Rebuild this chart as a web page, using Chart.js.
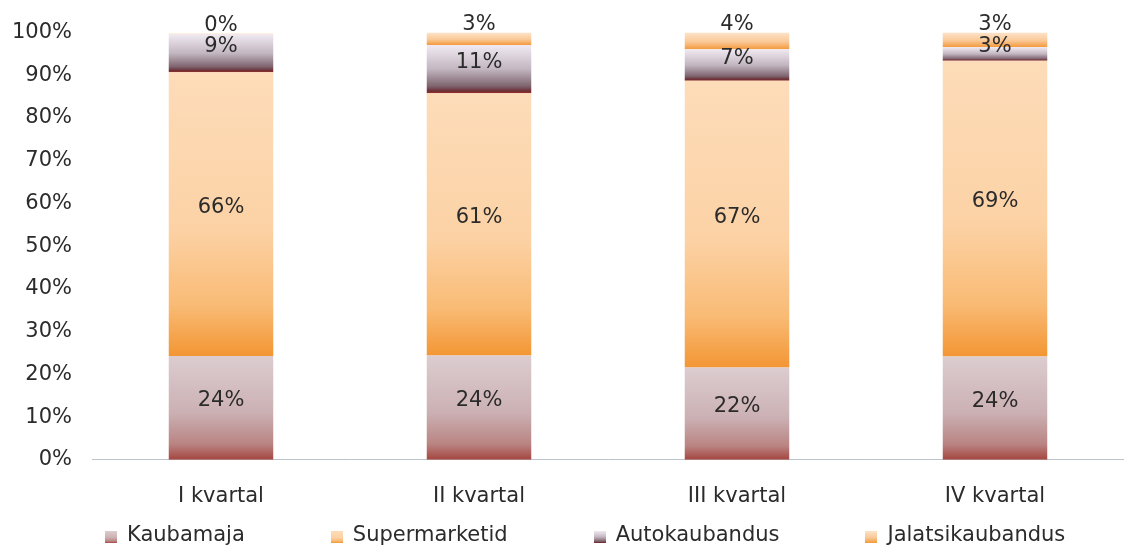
<!DOCTYPE html>
<html>
<head>
<meta charset="utf-8">
<script src="https://cdn.jsdelivr.net/npm/chart.js@4/dist/chart.umd.min.js"></script>
<style>
  html, body { margin: 0; padding: 0; background: #fff; }
  #wrap { width: 1124px; height: 548px; }
</style>
</head>
<body>
<div id="wrap"><canvas id="chart" width="1124" height="548"></canvas></div>
<script>
// andmed (protsendid)
const categories = ['I kvartal', 'II kvartal', 'III kvartal', 'IV kvartal'];
const seriesNames = ['Kaubamaja', 'Supermarketid', 'Autokaubandus', 'Jalatsikaubandus'];
const kaubamaja = [24.3, 24.4, 21.6, 24.2];
const supermarketid = [66.4, 61.4, 67.1, 69.2];
const autokaubandus = [8.9, 11.3, 7.4, 3.2];
const jalatsikaubandus = [0.2, 2.9, 3.9, 3.4];
const yTicks = [0, 10, 20, 30, 40, 50, 60, 70, 80, 90, 100];

const FONT = '"DejaVu Sans", Arial, sans-serif';
const TEXT = '#2b2b2b';

const gradStops = [
    [[0, '#dccdd0'], [0.55, '#cbb0b3'], [0.85, '#b98482'], [1, '#a5453f']],
    [[0, '#fddcb9'], [0.55, '#fcd2a5'], [0.82, '#f9bb75'], [1, '#f39634']],
    [[0, '#f1eaf3'], [0.5, '#c2b6c0'], [0.85, '#7f6570'], [0.95, '#6c3038'], [1, '#982c2a']],
    [[0, '#fde3c8'], [0.55, '#fac897'], [1, '#f39a3c']],
];

// iga lõigu enda kõrgusele venitatud gradient
function segGradient(di) {
    return (ctx) => {
        const chart = ctx.chart;
        const y = chart.scales.y;
        if (ctx.type !== 'data' || !y) return gradStops[di][0][1];
        let start = 0;
        for (let k = 0; k < di; k++) start += chart.data.datasets[k].data[ctx.dataIndex];
        const end = start + chart.data.datasets[di].data[ctx.dataIndex];
        const y0 = y.getPixelForValue(end);
        const y1 = y.getPixelForValue(start);
        if (!isFinite(y0) || !isFinite(y1)) return gradStops[di][0][1];
        const g = chart.ctx.createLinearGradient(0, y0, 0, Math.max(y1, y0 + 1));
        gradStops[di].forEach(([o, c]) => g.addColorStop(o, c));
        return g;
    };
}

function legendSwatch(di) {
    const c = document.createElement('canvas');
    c.width = 12; c.height = 12;
    const x = c.getContext('2d');
    const g = x.createLinearGradient(0, 0, 0, 12);
    gradStops[di].forEach(([o, col]) => g.addColorStop(o, col));
    x.fillStyle = g;
    x.fillRect(0, 0, 12, 12);
    return c;
}

const valueLabels = {
    id: 'valueLabels',
    afterDatasetsDraw(chart) {
        const ctx = chart.ctx;
        ctx.save();
        ctx.font = '21px ' + FONT;
        ctx.fillStyle = TEXT;
        ctx.textAlign = 'center';
        ctx.textBaseline = 'middle';
        const last = chart.data.datasets.length - 1;
        chart.data.datasets.forEach((ds, di) => {
            chart.getDatasetMeta(di).data.forEach((el, i) => {
                const txt = Math.round(ds.data[i]) + '%';
                const ty = di === last ? el.y - 8 : (el.y + el.base) / 2 - 7;
                ctx.fillText(txt, el.x, ty);
            });
        });
        ctx.restore();
    }
};

// alumine legend
const bottomLegend = {
    id: 'bottomLegend',
    afterDraw(chart) {
        const ctx = chart.ctx;
        ctx.save();
        ctx.font = '21px ' + FONT;
        ctx.fillStyle = TEXT;
        ctx.textBaseline = 'middle';
        ctx.textAlign = 'left';
        const cy = 536;
        let x = 105;
        seriesNames.forEach((name, di) => {
            ctx.drawImage(legendSwatch(di), x, cy - 5, 12, 12);
            x += 12 + 10;
            ctx.fillText(name, x, cy);
            x += ctx.measureText(name).width + 86;
        });
        ctx.restore();
    }
};

const seriesData = [kaubamaja, supermarketid, autokaubandus, jalatsikaubandus];

const chart = new Chart(document.getElementById('chart'), {
    type: 'bar',
    data: {
        labels: categories,
        datasets: seriesNames.map((name, di) => ({
            label: name,
            data: seriesData[di],
            backgroundColor: segGradient(di),
            borderWidth: 0,
            barPercentage: 0.405,
            categoryPercentage: 1,
        })),
    },
    options: {
        responsive: false,
        animation: false,
        layout: { padding: { left: 10, right: -6, top: 21, bottom: 15 } },
        plugins: {
            legend: { display: false },
            tooltip: { enabled: false },
        },
        scales: {
            x: {
                stacked: true,
                grid: { display: false, drawTicks: false },
                border: { display: true, color: '#bcc3cc', width: 1 },
                ticks: { color: TEXT, font: { size: 21, family: FONT }, padding: 24 },
            },
            y: {
                stacked: true,
                min: 0, max: 100,
                afterBuildTicks: (s) => { s.ticks = yTicks.map(v => ({ value: v })); },
                afterFit: (s) => { s.width = 82; },
                grid: { display: false, drawTicks: false },
                border: { display: false },
                ticks: {
                    color: TEXT,
                    font: { size: 21, family: FONT },
                    padding: 20,
                    callback: (v) => v + '%',
                },
            },
        },
    },
    plugins: [valueLabels, bottomLegend],
});
chart.update();
</script>
</body>
</html>
